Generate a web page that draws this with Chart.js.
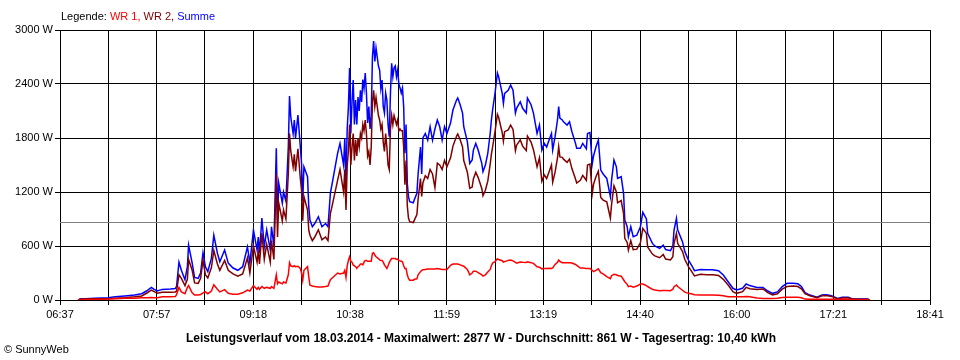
<!DOCTYPE html>
<html>
<head>
<meta charset="utf-8">
<script src="https://cdn.jsdelivr.net/npm/chart.js@4.4.1/dist/chart.umd.min.js"></script>
<style>
  html, body { margin: 0; padding: 0; background: #fff; }
  #wrap { width: 960px; height: 360px; }
</style>
</head>
<body>
<div id="wrap"><canvas id="chart" width="960" height="360"></canvas></div>
<script>
// Messzeitpunkte (hh:mm) und Leistung in W
const times = [
  '06:52','06:54','06:58','07:06','07:17','07:23','07:31','07:39','07:45','07:49','07:53','07:55','07:58',
  '08:02','08:09','08:13','08:14','08:16','08:18','08:21','08:23','08:24','08:27','08:29','08:32','08:34',
  '08:36','08:38','08:40','08:43','08:45','08:48','08:50','08:54','08:57',
  '09:01','09:05','09:09','09:13','09:15','09:18','09:21','09:22','09:23','09:25','09:27','09:29','09:32',
  '09:33','09:35','09:37','09:38','09:39','09:42','09:43','09:45','09:47','09:48','09:49','09:51','09:52',
  '09:53','09:55','09:57','09:58','09:59',
  '10:00','10:03','10:04','10:05','10:07','10:09','10:12','10:15','10:18','10:20','10:22','10:24','10:28',
  '10:30','10:33',
  '10:34','10:35','10:36','10:37','10:38','10:39','10:40','10:41','10:42','10:43','10:44','10:45','10:46',
  '10:47','10:48','10:49','10:50','10:51','10:52','10:53','10:54','10:55','10:56','10:57','10:58','10:59',
  '11:00','11:01','11:02','11:03','11:04','11:05','11:06','11:07','11:08','11:09','11:10','11:11','11:12',
  '11:13','11:14','11:15','11:16','11:17','11:18','11:19','11:20','11:21','11:22','11:23','11:24','11:25',
  '11:26','11:27','11:28',
  '11:31','11:32','11:34','11:35','11:37','11:38','11:39','11:41','11:43','11:45','11:47','11:49','11:51',
  '11:53','11:55','11:57','11:59',
  '12:02','12:04','12:07','12:08','12:10','12:12','12:13','12:16','12:18','12:20','12:21','12:23','12:25',
  '12:28','12:29','12:31','12:33','12:35','12:36','12:37','12:39','12:41','12:42','12:45','12:46','12:47',
  '12:50','12:52','12:54','12:56','12:57',
  '13:00','13:02','13:05','13:06','13:09','13:11','13:14','13:16','13:18','13:20','13:22','13:24','13:26',
  '13:27','13:29','13:31','13:32','13:33','13:35','13:36','13:39','13:41','13:43','13:46','13:47','13:50',
  '13:52','13:55','13:56','13:58',
  '14:00','14:01','14:03','14:05','14:07','14:09','14:12','14:15','14:16','14:18','14:20','14:21','14:24',
  '14:26','14:27','14:29','14:30','14:32','14:34','14:37','14:40','14:42','14:45','14:46','14:50','14:52',
  '14:56','14:59',
  '15:01','15:05','15:07','15:08','15:10','15:11','15:15','15:17','15:20','15:23','15:25','15:30','15:35',
  '15:40','15:45','15:49','15:53','15:57',
  '16:00','16:05','16:08','16:11','16:17','16:22','16:26','16:30','16:34','16:38','16:42','16:47','16:51',
  '16:54','16:57',
  '17:01','17:07','17:11','17:15','17:19','17:24','17:28','17:33','17:36','17:43','17:49','17:51'
];

const summe = [
  0,10,15,20,25,35,45,55,70,100,140,120,100,
  118,122,128,150,420,330,225,370,610,410,250,240,300,525,370,315,465,720,520,425,555,410,
  355,330,370,590,410,777,555,700,520,910,590,777,555,814,600,1685,890,1300,1077,1200,1100,1700,2266,2037,
  1850,2000,1800,2055,1700,1520,1100,
  1480,1370,1037,888,814,850,925,814,850,814,1185,1333,1630,1740,1500,
  1800,1300,1900,2148,2577,1850,2200,2444,1950,2222,1950,2255,2100,2330,2200,2450,2350,2522,2300,1966,
  2150,1900,2050,2700,2877,2650,
  2800,2700,2600,2555,2350,2444,2150,2077,2300,2222,1950,1815,2300,2630,2480,2580,2600,2480,2555,2400,
  2355,2300,2355,2148,1630,1950,1300,1148,1092,
  1080,1120,1185,1400,1700,1400,1800,1850,1777,1925,1777,1900,2000,1925,1777,1925,1850,
  1966,2111,2222,2244,2170,2077,1925,1759,1518,1555,1666,1740,1666,1518,1426,1500,1630,1850,2000,2111,
  2296,2522,2480,2296,2185,2296,2330,2388,2330,2077,2130,
  2203,2130,2077,2244,2170,2077,1850,1944,1666,1740,1700,1777,1850,1666,1815,2000,2148,2020,2000,1980,
  1944,1980,1870,1740,1685,1685,1740,1680,1850,1860,
  1518,1600,1700,1777,1444,1400,1351,1148,1330,1555,1480,1351,1370,1185,888,814,703,814,703,720,
  814,974,900,740,629,600,574,610,
  560,548,600,777,907,780,648,537,444,377,326,340,335,335,326,277,203,130,
  111,130,178,160,140,140,100,74,90,148,185,185,180,150,81,
  55,30,55,58,48,18,30,30,15,10,10,0
];

const wr2 = [
  0,10,10,15,15,20,25,35,45,75,110,95,75,
  85,85,90,100,280,240,160,230,450,330,190,185,240,440,280,245,360,550,400,330,440,330,
  290,265,290,470,300,600,420,540,400,740,450,620,420,660,450,1400,700,1080,880,1000,900,1400,1850,1660,
  1480,1620,1430,1680,1350,1220,880,
  1150,1000,780,720,660,700,780,670,700,660,960,1080,1330,1450,1200,
  1450,1000,1500,1650,1950,1500,1700,1850,1550,1780,1600,1800,1700,1850,1800,1950,1880,2000,1850,1600,
  1650,1500,1700,2200,2330,2150,
  2250,2150,2050,2000,1900,1950,1750,1650,1850,1700,1500,1450,1900,2050,1950,2050,2000,1950,2000,1880,
  1900,1880,1880,1700,1280,1550,1050,910,870,
  860,890,950,1120,1350,1150,1300,1380,1350,1450,1400,1250,1520,1500,1450,1550,1480,
  1580,1710,1820,1845,1780,1700,1550,1420,1240,1255,1345,1420,1360,1240,1160,1220,1320,1510,1620,1700,
  1870,2063,2030,1860,1765,1870,1890,1944,1895,1660,1720,
  1780,1710,1660,1820,1755,1670,1480,1580,1320,1390,1350,1425,1500,1310,1420,1580,1704,1590,1585,1565,
  1530,1565,1460,1345,1300,1330,1385,1330,1500,1510,
  1190,1285,1370,1430,1140,1110,1092,911,1060,1270,1200,1080,1105,960,685,640,555,660,560,565,
  636,796,740,590,510,490,470,505,
  455,445,480,630,740,630,540,450,370,310,267,285,280,280,272,230,166,93,
  74,93,140,125,117,122,82,56,70,120,150,155,150,125,70,
  47,25,47,50,40,12,22,24,10,8,8,0
];

const wr1 = [
  0,0,5,5,10,15,20,20,25,25,28,26,25,
  35,37,38,60,140,90,70,140,160,80,55,55,60,80,90,70,100,170,120,90,115,75,
  65,65,80,110,100,160,120,140,120,150,130,140,130,150,130,280,180,200,180,200,190,280,415,380,
  370,380,370,375,350,300,220,
  330,370,260,165,155,150,145,145,150,155,225,250,300,290,300,
  330,250,380,440,480,430,420,390,380,370,350,370,380,400,400,390,420,440,440,430,
  430,430,430,520,525,500,
  480,470,460,445,440,440,420,390,370,350,380,415,440,460,460,460,460,450,455,440,
  435,430,425,380,350,350,280,240,220,
  220,230,235,280,315,330,335,340,345,345,345,345,350,345,340,340,340,
  385,400,400,400,390,380,375,340,280,300,320,320,305,280,266,280,310,340,380,410,
  425,459,450,436,420,426,440,444,435,417,410,
  423,420,417,424,415,407,370,364,346,350,350,352,350,356,395,420,444,430,415,415,
  414,415,410,395,385,355,355,350,350,350,
  328,315,330,347,304,290,259,237,270,285,280,271,265,225,203,174,148,154,143,155,
  178,178,160,150,119,110,104,105,
  105,103,120,147,167,150,108,87,74,67,59,55,55,55,54,47,37,37,
  37,37,38,35,23,18,18,18,20,28,30,30,30,25,10,
  8,7,8,8,8,6,7,6,5,2,2,0
];

const tickLabels = ['06:37','07:57','09:18','10:38','11:59','13:19','14:40','16:00','17:21','18:41'];
const yMax = 3000;
const yStep = 600;
const average = 861; // Durchschnitt
const titleText = 'Leistungsverlauf vom 18.03.2014 - Maximalwert: 2877 W - Durchschnitt: 861 W - Tagesertrag: 10,40 kWh';

const toMin = s => {
  const [h, m] = s.split(':').map(Number);
  return h * 60 + m;
};
const xMin = toMin(tickLabels[0]);
const xMax = toMin(tickLabels[tickLabels.length - 1]);
const series = vals => times.map((t, i) => ({ x: toMin(t), y: vals[i] }));

const RED = '#ff0000', DARKRED = '#800000', BLUE = '#0000ff';
const FONT = '"Liberation Sans", Arial, sans-serif';

const textPlugin = {
  id: 'texts',
  beforeDraw(chart) {
    const ctx = chart.ctx;
    ctx.save();
    ctx.fillStyle = '#fff';
    ctx.fillRect(0, 0, chart.width, chart.height);
    ctx.restore();
  },
  afterDraw(chart) {
    const ctx = chart.ctx;
    ctx.save();
    // Legende oben links
    ctx.font = '11px ' + FONT;
    ctx.textBaseline = 'alphabetic';
    let x = 61;
    [['Legende: ', '#000'], ['WR 1, ', RED], ['WR 2, ', DARKRED], ['Summe', BLUE]].forEach(([t, c]) => {
      ctx.fillStyle = c;
      ctx.fillText(t, x, 20);
      x += ctx.measureText(t).width;
    });
    // Titel unten
    ctx.font = 'bold 12px ' + FONT;
    ctx.fillStyle = '#000';
    ctx.textAlign = 'center';
    ctx.fillText(titleText, 481, 342);
    // Copyright
    ctx.font = '11px ' + FONT;
    ctx.textAlign = 'left';
    ctx.fillText('\u00a9 SunnyWeb', 4, 353);
    ctx.restore();
  }
};

new Chart(document.getElementById('chart'), {
  type: 'line',
  data: {
    datasets: [
      { label: 'WR 1', data: series(wr1), borderColor: RED, order: 1 },
      { label: 'WR 2', data: series(wr2), borderColor: DARKRED, order: 2 },
      { label: 'Summe', data: series(summe), borderColor: BLUE, order: 3 },
      {
        label: 'Durchschnitt',
        data: [{ x: xMin, y: average }, { x: xMax, y: average }],
        borderColor: '#808080', borderWidth: 1, order: 4
      }
    ]
  },
  options: {
    responsive: false,
    animation: false,
    devicePixelRatio: 1,
    layout: { padding: { left: 0, right: 30, top: 30, bottom: 0 } },
    elements: {
      line: { borderWidth: 1.5, tension: 0, fill: false },
      point: { radius: 0 }
    },
    plugins: {
      legend: { display: false },
      tooltip: { enabled: false }
    },
    scales: {
      x: {
        type: 'linear',
        min: xMin,
        max: xMax,
        afterBuildTicks: axis => {
          const n = (tickLabels.length - 1) * 2;
          axis.ticks = [];
          for (let i = 0; i <= n; i++) axis.ticks.push({ value: xMin + i * (xMax - xMin) / n });
        },
        afterFit: s => { s.height = 60; },
        ticks: {
          autoSkip: false,
          maxRotation: 0,
          padding: 3,
          color: '#000',
          font: { family: FONT, size: 11 },
          callback: (v, i) => (i % 2 === 0 ? tickLabels[i / 2] : '')
        },
        grid: { color: '#000', lineWidth: 1, tickLength: 5 },
        border: { color: '#000' }
      },
      y: {
        min: 0,
        max: yMax,
        afterFit: s => { s.width = 60; },
        ticks: {
          stepSize: yStep,
          padding: 2,
          color: '#000',
          font: { family: FONT, size: 11 },
          callback: v => v + ' W'
        },
        grid: { color: '#000', lineWidth: 1, tickLength: 5 },
        border: { color: '#000' }
      }
    }
  },
  plugins: [textPlugin]
});
</script>
</body>
</html>
